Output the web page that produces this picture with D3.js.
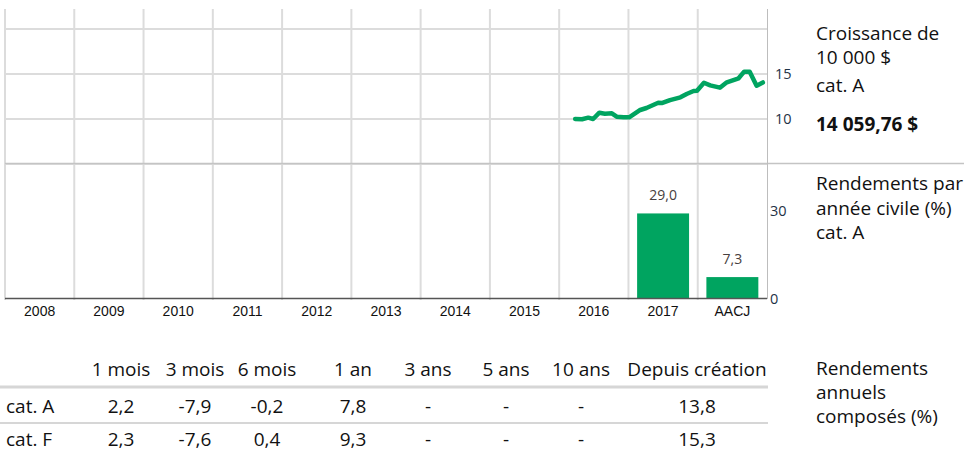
<!DOCTYPE html>
<html><head><meta charset="utf-8">
<script src="https://cdn.jsdelivr.net/npm/d3@7"></script>
<style>
html,body{margin:0;padding:0;background:#fff;}
svg{display:block;}
</style></head>
<body>
<svg id="c" width="964" height="450"></svg>
<script>
// ---- data ----
const years = ["2008","2009","2010","2011","2012","2013","2014","2015","2016","2017","AACJ"];
const growthTicks = [10, 15];
const growthGrid = [5, 10, 15, 20];
const lineDates = [2016.23,2016.33,2016.42,2016.49,2016.58,2016.66,2016.76,2016.83,2016.93,2017.01,
  2017.17,2017.26,2017.43,2017.49,2017.60,2017.75,2017.84,2017.94,2017.99,2018.09,
  2018.18,2018.32,2018.42,2018.59,2018.67,2018.75,2018.85,2018.94];
const lineValues = [10.0,9.97,10.15,10.0,10.7,10.59,10.63,10.26,10.19,10.19,
  11.0,11.22,11.81,11.78,12.1,12.41,12.78,13.11,13.14,14.03,
  13.74,13.48,14.08,14.52,15.26,15.26,13.70,14.06];
const barCats = ["2017","AACJ"];
const barValues = [29.0, 7.3];
const barTicks = [0, 30];
const periods = ["1 mois","3 mois","6 mois","1 an","3 ans","5 ans","10 ans","Depuis création"];
const rowNames = ["cat. A","cat. F"];
const rowA = ["2,2","-7,9","-0,2","7,8","-","-","-","13,8"];
const rowF = ["2,3","-7,6","0,4","9,3","-","-","-","15,3"];

// ---- layout ----
const svg = d3.select("#c");
const FONT = "'Open Sans', 'Noto Sans', sans-serif";
const GREEN = "#00a460";
const GRID = "#dcdcdc";
const L = 5, R = 767;

const xYear = d3.scaleLinear().domain([2008, 2019]).range([L, R]);
const xBand = d3.scaleBand().domain(years).range([L, R]).paddingInner(0.25).paddingOuter(0.125);
const yTop = d3.scaleLinear().domain([5, 22.22]).range([164, 9]);
const yBar = d3.scaleLinear().domain([0, 30]).range([298.5, 210.5]);

// top chart grid
const gTop = svg.append("g");
gTop.selectAll("line.v").data(d3.range(2008, 2019)).join("line")
  .attr("x1", d => xYear(d)).attr("x2", d => xYear(d))
  .attr("y1", 9).attr("y2", 164)
  .attr("stroke", GRID).attr("stroke-width", 2);
gTop.selectAll("line.h").data(growthGrid).join("line")
  .attr("x1", L).attr("x2", R)
  .attr("y1", d => yTop(d)).attr("y2", d => yTop(d))
  .attr("stroke", GRID).attr("stroke-width", 2);

// bar chart grid
const gBar = svg.append("g");
gBar.selectAll("line.v").data(d3.range(2008, 2019)).join("line")
  .attr("x1", d => xYear(d)).attr("x2", d => xYear(d))
  .attr("y1", 164).attr("y2", 300)
  .attr("stroke", GRID).attr("stroke-width", 2);

// separator
svg.append("line").attr("x1", L).attr("x2", 964).attr("y1", 163.5).attr("y2", 163.5)
  .attr("stroke", "#c4c4c4").attr("stroke-width", 1.5);
// right axis line
svg.append("line").attr("x1", R + 0.5).attr("x2", R + 0.5).attr("y1", 9).attr("y2", 299)
  .attr("stroke", "#bdbdbd").attr("stroke-width", 1);

// line
const pts = lineDates.map((d, i) => [d, lineValues[i]]);
svg.append("path").datum(pts)
  .attr("d", d3.line().x(d => xYear(d[0])).y(d => yTop(d[1])))
  .attr("fill", "none").attr("stroke", GREEN).attr("stroke-width", 4.5)
  .attr("stroke-linejoin", "round").attr("stroke-linecap", "round");

// top ticks
svg.append("g").selectAll("text").data(growthTicks).join("text")
  .attr("x", 775).attr("y", d => yTop(d)).attr("dy", "0.35em")
  .attr("font-family", FONT).attr("font-size", 14.5).attr("fill", "#1e3246")
  .text(d => d);

// bars
const barData = barCats.map((c, i) => ({c, v: barValues[i]}));
svg.append("g").selectAll("rect").data(barData).join("rect")
  .attr("x", d => xBand(d.c)).attr("width", xBand.bandwidth())
  .attr("y", d => yBar(d.v)).attr("height", d => yBar(0) - yBar(d.v))
  .attr("fill", GREEN);
svg.append("g").selectAll("text").data(barData).join("text")
  .attr("x", d => xBand(d.c) + xBand.bandwidth() / 2).attr("y", d => yBar(d.v) - 13.5)
  .attr("text-anchor", "middle")
  .attr("font-family", FONT).attr("font-size", 14).attr("fill", "#474040")
  .text(d => d3.format(".1f")(d.v).replace(".", ","));

// baseline
svg.append("line").attr("x1", L).attr("x2", R).attr("y1", yBar(0)).attr("y2", yBar(0))
  .attr("stroke", "#555").attr("stroke-width", 1.5);

// bar ticks
svg.append("g").selectAll("text").data(barTicks).join("text")
  .attr("x", 770).attr("y", d => yBar(d)).attr("dy", "0.35em")
  .attr("font-family", FONT).attr("font-size", 14.5).attr("fill", "#1e3246")
  .text(d => d);

// x labels
const xAxis = d3.axisBottom(xBand).tickSize(0).tickPadding(0);
const gx = svg.append("g").attr("transform", "translate(0,306)").call(xAxis);
gx.select(".domain").remove();
gx.selectAll("text").attr("font-family", "'Liberation Sans', Arial, sans-serif")
  .attr("font-size", 14).attr("fill", "#111").attr("dy", "0.71em");

// right labels
function block(lines, x, ys, opts) {
  lines.forEach((t, i) => {
    svg.append("text").attr("x", x).attr("y", ys[i])
      .attr("font-family", FONT).attr("font-size", 19).attr("fill", "#111")
      .attr("font-weight", (opts && opts[i]) || "normal").text(t);
  });
}
block(["Croissance de", "10 000 $", "cat. A", "14 059,76 $"], 816, [40, 64, 92, 131], [null, null, null, "bold"]);
block(["Rendements par", "année civile (%)", "cat. A"], 816, [190, 215, 239]);
block(["Rendements", "annuels", "composés (%)"], 816, [375, 399, 423]);

// table
const colCenters = [121, 195, 267, 353, 428, 506, 581, 697];
const gT = svg.append("g").attr("font-family", FONT).attr("font-size", 19).attr("fill", "#111");
gT.selectAll("text.h").data(periods).join("text")
  .attr("x", (d, i) => colCenters[i]).attr("y", 376).attr("text-anchor", "middle").text(d => d);
[rowA, rowF].forEach((row, r) => {
  const y = [413, 445.5][r];
  gT.append("text").attr("x", 6).attr("y", y).text(rowNames[r]);
  gT.selectAll("text.r" + r).data(row).join("text")
    .attr("x", (d, i) => colCenters[i]).attr("y", y).attr("text-anchor", "middle").text(d => d);
});
svg.append("line").attr("x1", 0).attr("x2", 768).attr("y1", 387).attr("y2", 387)
  .attr("stroke", "#d6d6d6").attr("stroke-width", 3);
svg.append("line").attr("x1", 0).attr("x2", 768).attr("y1", 423).attr("y2", 423)
  .attr("stroke", "#d6d6d6").attr("stroke-width", 2);
</script>
</body></html>
